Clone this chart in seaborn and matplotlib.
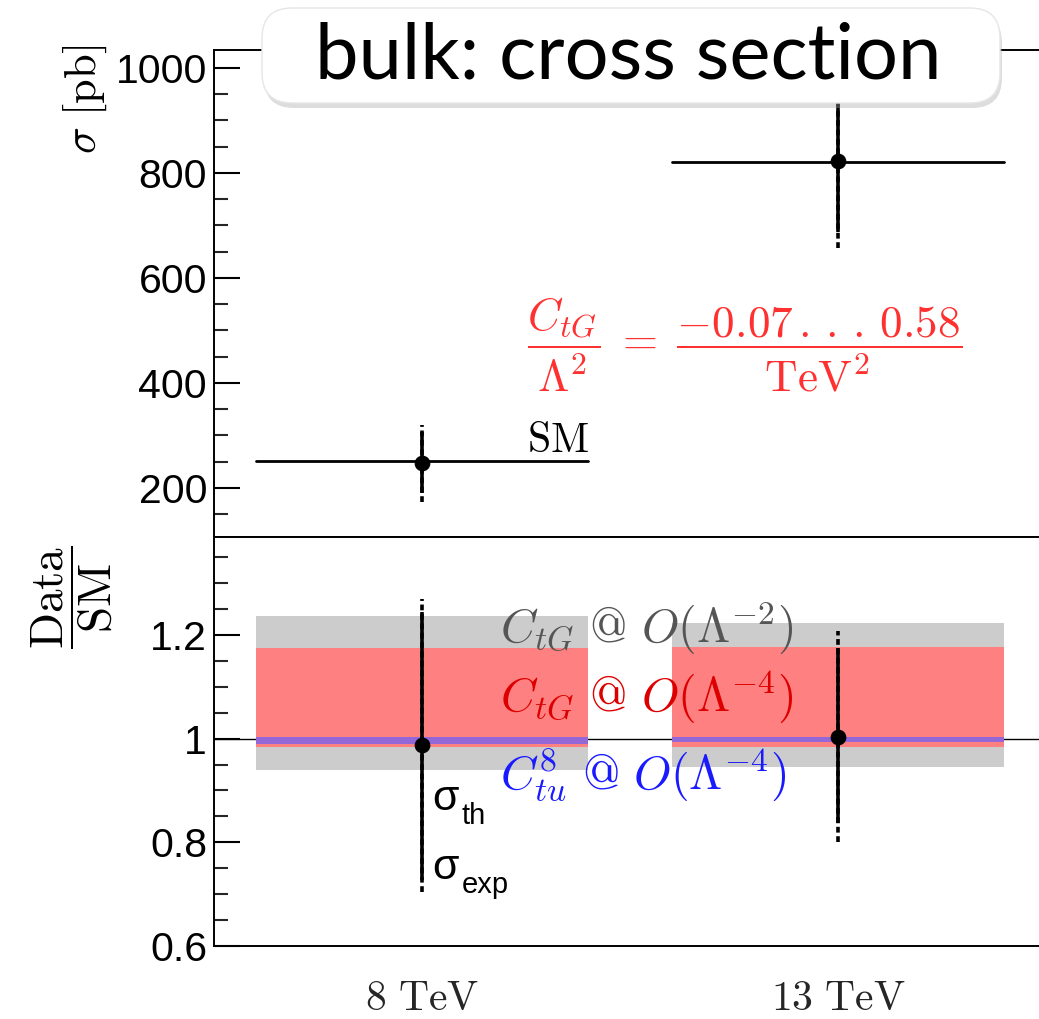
import matplotlib
matplotlib.use("Agg")
import matplotlib.pyplot as plt
from matplotlib.patches import FancyBboxPatch
from matplotlib.transforms import IdentityTransform
from matplotlib.ticker import MultipleLocator
import seaborn as sns
import pandas as pd

# ---------------- data ----------------
energies = ["8 TeV", "13 TeV"]
xpos = [0.5, 1.5]
bin_half = 0.4

sm_xsec = [251, 820]
data_xsec = [248, 823]
xsec_th_lo = [190, 688]
xsec_th_hi = [307, 958]
xsec_exp_lo = [173, 657]
xsec_exp_hi = [320, 988]

ratio_center = [0.988, 1.004]
ratio_th_lo = [0.728, 0.838]
ratio_th_hi = [1.245, 1.174]
ratio_exp_lo = [0.704, 0.801]
ratio_exp_hi = [1.269, 1.207]

band_l2_lo = [0.940, 0.946]
band_l2_hi = [1.236, 1.224]
band_l4_lo = [0.983, 0.983]
band_l4_hi = [1.174, 1.176]
band_tu_lo = [0.990, 0.994]
band_tu_hi = [1.004, 1.003]

# ---------------- style ----------------
sns.set_theme(style="white")
plt.rcParams["font.family"] = ["Liberation Sans", "DejaVu Sans"]
plt.rcParams["mathtext.fontset"] = "cm"
plt.rcParams["axes.linewidth"] = 1.4

W, H = 1039, 1019
fig = plt.figure(figsize=(W / 100, H / 100), dpi=100)
fig.patch.set_facecolor("white")

L = 214
ax1 = fig.add_axes([L / W, 1 - 537 / H, 832 / W, (537 - 50) / H])
ax2 = fig.add_axes([L / W, 1 - 946 / H, 832 / W, (946 - 537) / H])

for ax in (ax1, ax2):
    ax.set_facecolor("white")
    ax.set_xlim(0, 2)
    for s in ax.spines.values():
        s.set_color("black")
        s.set_linewidth(1.4)
    ax.spines["right"].set_visible(False)
    ax.tick_params(axis="y", which="major", direction="in", length=19, width=1.5,
                   labelsize=29.5, pad=5, left=True, colors="black")
    ax.tick_params(axis="y", which="minor", direction="in", length=10, width=1.5, left=True)
    ax.tick_params(axis="x", which="both", length=0)

# ---------------- top panel ----------------
ax1.set_ylim(106.7, 1034)
ax1.yaxis.set_major_locator(MultipleLocator(200))
ax1.yaxis.set_minor_locator(MultipleLocator(50))
ax1.set_xticks([])

for i, x in enumerate(xpos):
    ax1.plot([x - bin_half, x + bin_half], [sm_xsec[i], sm_xsec[i]], color="black", lw=2.0, zorder=3)
    ax1.plot([x, x], [xsec_th_lo[i], xsec_th_hi[i]], color="black", lw=2.6, zorder=4, solid_capstyle="butt")
    ax1.plot([x, x], [xsec_exp_lo[i], xsec_exp_hi[i]], color="black", lw=2.6, zorder=4,
             linestyle=(0, (1.6, 1.0)))

df_top = pd.DataFrame({"x": xpos, "y": data_xsec})
sns.scatterplot(data=df_top, x="x", y="y", ax=ax1, color="black", s=110, zorder=5,
                edgecolor="black", legend=False)
ax1.set_xlabel("")
ax1.set_ylabel("")
ax1.set_xlim(0, 2)

ax1.text(0.45, 0.175, r"$\mathrm{SM}$", transform=ax1.transAxes, ha="right", va="baseline",
         fontsize=30, color="black")
ax1.text(0.638, 0.395,
         r"$\dfrac{C_{tG}}{\Lambda^2}\;=\;\dfrac{-0.07\,.\,.\,.\,0.58}{\mathrm{TeV}^2}$",
         transform=ax1.transAxes, ha="center", va="center", fontsize=32.5, color="#ff3030")

# ---------------- bottom panel ----------------
ax2.set_ylim(0.6, 1.389)
ax2.yaxis.set_major_locator(MultipleLocator(0.2))
ax2.yaxis.set_minor_locator(MultipleLocator(0.05))
ax2.set_yticks([0.6, 0.8, 1.0, 1.2])
ax2.set_yticklabels(["0.6", "0.8", "1", "1.2"])
ax2.axhline(1.0, color="black", lw=1.0, zorder=1)

for i, x in enumerate(xpos):
    xs = [x - bin_half, x + bin_half]
    ax2.fill_between(xs, band_l2_lo[i], band_l2_hi[i], color="#cccccc", lw=0, zorder=2)
    ax2.fill_between(xs, band_l4_lo[i], band_l4_hi[i], color="#ff8080", lw=0, zorder=2)
    ax2.fill_between(xs, band_tu_lo[i], band_tu_hi[i], color="#9368d6", lw=0, zorder=2)
    ax2.plot([x, x], [ratio_th_lo[i], ratio_th_hi[i]], color="black", lw=2.6, zorder=4, solid_capstyle="butt")
    ax2.plot([x, x], [ratio_exp_lo[i], ratio_exp_hi[i]], color="black", lw=2.6, zorder=4,
             linestyle=(0, (1.6, 1.0)))

df_bot = pd.DataFrame({"x": xpos, "y": ratio_center})
sns.scatterplot(data=df_bot, x="x", y="y", ax=ax2, color="black", s=110, zorder=5,
                edgecolor="black", legend=False)
ax2.set_xlabel("")
ax2.set_ylabel("")
ax2.set_xlim(0, 2)
ax2.set_xticks(xpos)
ax2.set_xticklabels([r"$8\ \mathrm{TeV}$", r"$13\ \mathrm{TeV}$"], fontsize=30)
ax2.tick_params(axis="x", pad=24, length=0)

ax2.text(0.344, 0.778, r"$C_{tG}\ \mathrm{@}\ O(\Lambda^{-2})$", transform=ax2.transAxes,
         ha="left", va="center", fontsize=34.5, color="#555555", zorder=6)
ax2.text(0.344, 0.609, r"$C_{tG}\ \mathrm{@}\ O(\Lambda^{-4})$", transform=ax2.transAxes,
         ha="left", va="center", fontsize=34.5, color="#dd0000", zorder=6)
ax2.text(0.344, 0.418, r"$C_{tu}^{8}\ \mathrm{@}\ O(\Lambda^{-4})$", transform=ax2.transAxes,
         ha="left", va="center", fontsize=34.5, color="#1a1aff", zorder=6)

# sigma labels
ax2.text(0.262, 0.333, "σ", transform=ax2.transAxes, ha="left", va="baseline", fontsize=31, color="black")
ax2.text(0.262 + 0.036, 0.333 - 0.035, "th", transform=ax2.transAxes, ha="left", va="baseline",
         fontsize=21, color="black")
ax2.text(0.262, 0.165, "σ", transform=ax2.transAxes, ha="left", va="baseline", fontsize=31, color="black")
ax2.text(0.262 + 0.036, 0.165 - 0.035, "exp", transform=ax2.transAxes, ha="left", va="baseline",
         fontsize=21, color="black")

# axis titles
fig.text(85 / W, 1 - 45 / H, r"$\sigma\ [\mathrm{pb}]$", rotation=90, ha="center", va="top",
         fontsize=32, color="black")
fig.text(72 / W, 1 - 597 / H, r"$\dfrac{\mathrm{Data}}{\mathrm{SM}}$", rotation=90, ha="center",
         va="center", fontsize=34, color="black")

# title box with shadow
tr = IdentityTransform()
shadow = FancyBboxPatch((264, H - 108), 738, 95,
                        boxstyle="round,pad=0,rounding_size=30", transform=tr,
                        fc="#aaaaaa", ec="none", alpha=0.4, zorder=20)
box = FancyBboxPatch((262, H - 103), 738, 95,
                     boxstyle="round,pad=0,rounding_size=30", transform=tr,
                     fc="white", ec="#e6e6e6", lw=1, zorder=21)
fig.patches.extend([shadow, box])
fig.text(628 / W, 1 - 57 / H, "bulk: cross section", ha="center", va="center",
         fontsize=56, family=["Lato", "DejaVu Sans"], fontweight="normal", color="black", zorder=22)

fig.savefig("out.png", dpi=100, facecolor="white")
